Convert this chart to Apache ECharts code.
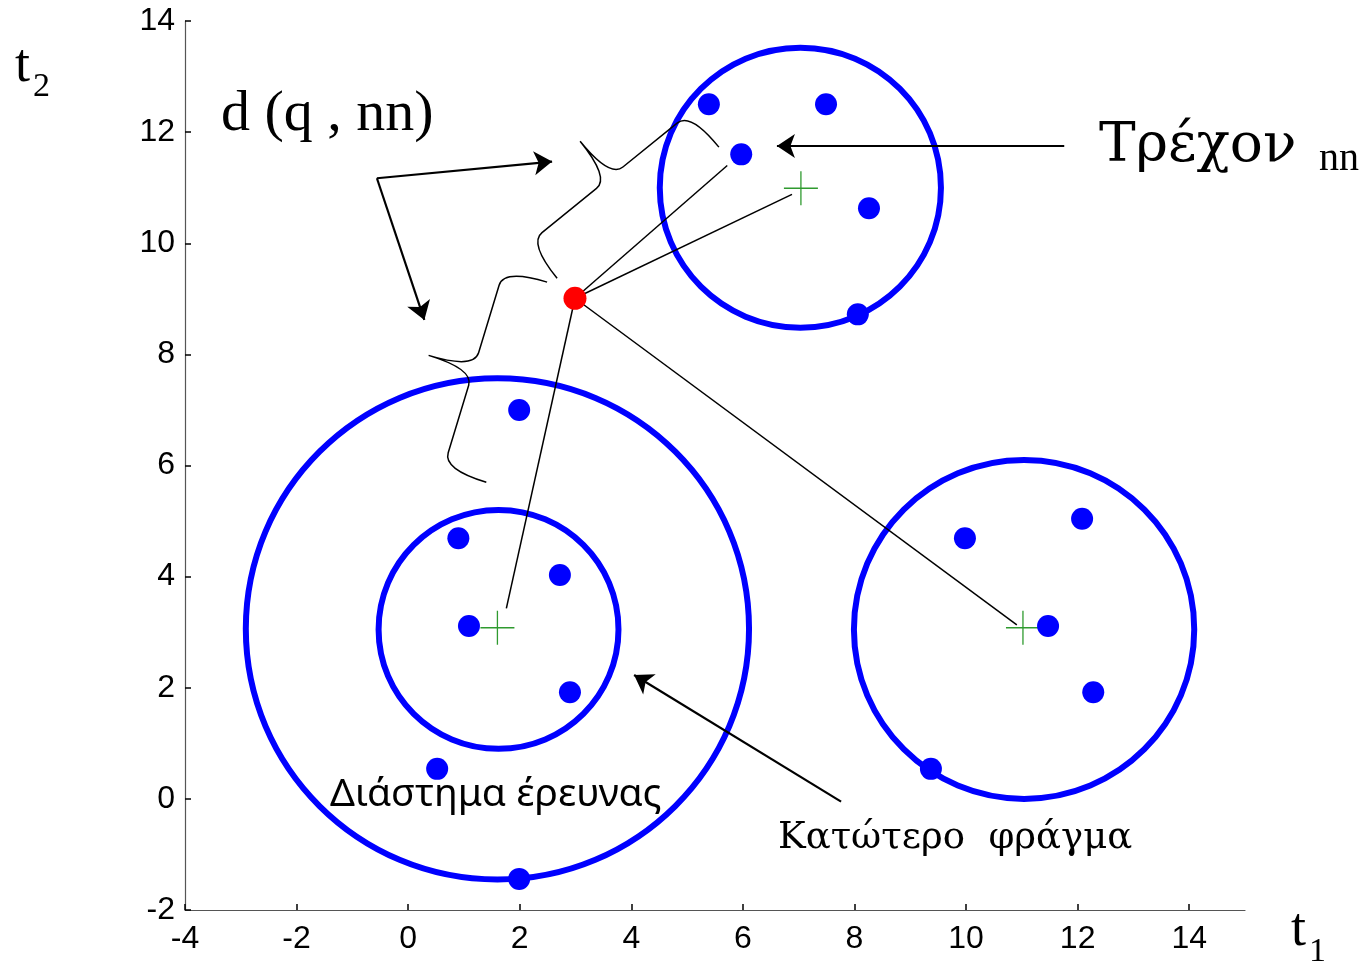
<!DOCTYPE html>
<html>
<head>
<meta charset="utf-8">
<script src="https://cdn.jsdelivr.net/npm/echarts@6/dist/echarts.min.js"></script>
<style>html,body{margin:0;padding:0;background:#fff}#c{width:1365px;height:965px}</style>
</head>
<body>
<div id="c"></div>
<script>
// ---- data ----
const xTicks = [-4, -2, 0, 2, 4, 6, 8, 10, 12, 14];
const yTicks = [-2, 0, 2, 4, 6, 8, 10, 12, 14];
const blueX = [5.39, 7.49, 5.97, 8.26, 8.06, 1.99, 0.90, 2.72, 1.09, 2.90, 0.52, 1.99, 9.98, 12.08, 11.47, 12.28, 9.37];
const blueY = [12.50, 12.50, 11.60, 10.63, 8.72, 7.00, 4.69, 4.03, 3.11, 1.92, 0.54, -1.44, 4.69, 5.04, 3.11, 1.92, 0.54];
const queryPoint = [2.99, 9.01];
const circleCX = [7.03, 1.60, 1.62, 11.04];
const circleCY = [11.00, 3.06, 3.05, 3.05];
const circleR = [2.52, 4.51, 2.15, 3.05];
const centerX = [7.04, 1.60, 11.02];
const centerY = [10.99, 3.08, 3.08];
const queryLineEndX = [5.72, 6.88, 1.76, 10.91];
const queryLineEndY = [11.40, 10.88, 3.43, 3.13];
const arrowFrom = [[11.76, 11.75], [7.76, -0.05], [-0.56, 11.17], [-0.56, 11.17]];
const arrowTo = [[6.61, 11.75], [4.05, 2.23], [2.58, 11.47], [0.29, 8.62]];
const braceFrom = [[2.67, 9.37], [1.40, 5.70]];
const braceTo = [[5.57, 11.73], [2.49, 9.30]];

const chart = echarts.init(document.getElementById('c'), null, {renderer: 'canvas'});

const circleData = circleCX.map((x, i) => [x, circleCY[i], circleR[i]]);
const blueData = blueX.map((x, i) => [x, blueY[i]]);
const centerData = centerX.map((x, i) => [x, centerY[i]]);
const queryLines = queryLineEndX.map((x, i) => ({coords: [queryPoint, [x, queryLineEndY[i]]]}));
const arrowLines = arrowFrom.map((f, i) => ({coords: [f, arrowTo[i]]}));
const braceData = braceFrom.map((f, i) => [f[0], f[1], braceTo[i][0], braceTo[i][1]]);

const serif = '"Liberation Serif", "DejaVu Serif", serif';
const wideSerif = '"DejaVu Serif", "Liberation Serif", serif';
const sans = '"Liberation Sans", Arial, sans-serif';

chart.setOption({
  animation: false,
  backgroundColor: '#fff',
  grid: {left: 185, right: 120, top: 21, bottom: 55, containLabel: false},
  xAxis: {
    type: 'value', min: -4, max: 15, interval: 2,
    axisLine: {show: true, onZero: false, lineStyle: {color: '#555', width: 1.2}},
    axisTick: {show: true, inside: true, length: 6, lineStyle: {color: '#000', width: 1.5}},
    axisLabel: {show: true, showMaxLabel: false, color: '#000', fontSize: 32, fontFamily: sans, margin: 13},
    splitLine: {show: false}
  },
  yAxis: {
    type: 'value', min: -2, max: 14, interval: 2,
    axisLine: {show: true, onZero: false, lineStyle: {color: '#555', width: 1.2}},
    axisTick: {show: true, inside: true, length: 6, lineStyle: {color: '#000', width: 1.5}},
    axisLabel: {show: true, color: '#000', fontSize: 32, fontFamily: sans, margin: 10},
    splitLine: {show: false}
  },
  series: [
    {
      type: 'custom', name: 'circles', coordinateSystem: 'cartesian2d', z: 2, clip: false,
      data: circleData,
      renderItem: function (params, api) {
        const c = api.coord([api.value(0), api.value(1)]);
        const s = api.size([api.value(2), api.value(2)]);
        return {type: 'ellipse', shape: {cx: c[0], cy: c[1], rx: s[0], ry: s[1]},
          style: {fill: 'none', stroke: '#0000ff', lineWidth: 6}};
      }
    },
    {
      type: 'lines', name: 'queryLines', coordinateSystem: 'cartesian2d', z: 3,
      symbol: ['none', 'none'],
      lineStyle: {color: '#000', width: 1.5, opacity: 1},
      data: queryLines
    },
    {
      type: 'lines', name: 'arrows', coordinateSystem: 'cartesian2d', z: 3,
      symbol: ['none', 'arrow'], symbolSize: 18,
      lineStyle: {color: '#000', width: 2.2, opacity: 1},
      data: arrowLines
    },
    {
      type: 'custom', name: 'braces', coordinateSystem: 'cartesian2d', z: 3, clip: false,
      data: braceData,
      renderItem: function (params, api) {
        const a = api.coord([api.value(0), api.value(1)]);
        const b = api.coord([api.value(2), api.value(3)]);
        const dx = b[0] - a[0], dy = b[1] - a[1];
        const L = Math.sqrt(dx * dx + dy * dy);
        const ux = dx / L, uy = dy / L;
        const nx = uy, ny = -ux;
        const depth = 92, h1 = 45, r = 17, half = L / 2;
        const P = (s, h) => [a[0] + ux * s + nx * h, a[1] + uy * s + ny * h];
        const pts = [
          ['M', P(0, 0)],
          ['Q', P(0, h1), P(r, h1)],
          ['L', P(half - r, h1)],
          ['Q', P(half, h1), P(half, depth)],
          ['Q', P(half, h1), P(half + r, h1)],
          ['L', P(L - r, h1)],
          ['Q', P(L, h1), P(L, 0)]
        ];
        let d = '';
        pts.forEach(p => { d += p[0] + p.slice(1).map(q => q[0].toFixed(1) + ',' + q[1].toFixed(1)).join(' ') + ' '; });
        return {type: 'path', shape: {pathData: d}, style: {fill: 'none', stroke: '#000', lineWidth: 1.5}};
      }
    },
    {
      type: 'custom', name: 'centres', coordinateSystem: 'cartesian2d', z: 4, clip: false,
      data: centerData,
      renderItem: function (params, api) {
        const c = api.coord([api.value(0), api.value(1)]);
        const h = 17;
        return {type: 'group', children: [
          {type: 'line', shape: {x1: c[0] - h, y1: c[1], x2: c[0] + h, y2: c[1]}, style: {stroke: '#2f9a2f', lineWidth: 1.3}},
          {type: 'line', shape: {x1: c[0], y1: c[1] - h, x2: c[0], y2: c[1] + h}, style: {stroke: '#2f9a2f', lineWidth: 1.3}}
        ]};
      }
    },
    {
      type: 'scatter', name: 'points', z: 5, symbol: 'circle', symbolSize: 22,
      itemStyle: {color: '#0000ff', opacity: 1},
      data: blueData
    },
    {
      type: 'scatter', name: 'query', z: 6, symbol: 'circle', symbolSize: 23,
      itemStyle: {color: '#ff0000', opacity: 1},
      data: [queryPoint]
    }
  ],
  graphic: [
    {type: 'text', left: 15, top: 40, style: {text: 't', font: '54px ' + serif, fill: '#000'}},
    {type: 'text', left: 33, top: 70, style: {text: '2', font: '34px ' + serif, fill: '#000'}},
    {type: 'text', left: 1291, top: 904, style: {text: 't', font: '54px ' + serif, fill: '#000'}},
    {type: 'text', left: 1309, top: 935, style: {text: '1', font: '34px ' + serif, fill: '#000'}},
    {type: 'text', left: 221, top: 86, style: {text: 'd (q , nn)', font: '58px ' + serif, fill: '#000'}},
    {type: 'text', left: 1099, top: 119, style: {text: 'Τρέχον', font: '55px ' + wideSerif, fill: '#000'}},
    {type: 'text', left: 1319, top: 139, style: {text: 'nn', font: '40px ' + serif, fill: '#000'}},
    {type: 'text', left: 330, top: 775, style: {text: 'Διάστημα έρευνας', font: '39px "Noto Sans", "Open Sans", sans-serif', fill: '#000'}},
    {type: 'text', left: 778, top: 820, style: {text: 'Κατώτερο  φράγμα', font: '37px ' + wideSerif, fill: '#000'}}
  ]
});
</script>
</body>
</html>
